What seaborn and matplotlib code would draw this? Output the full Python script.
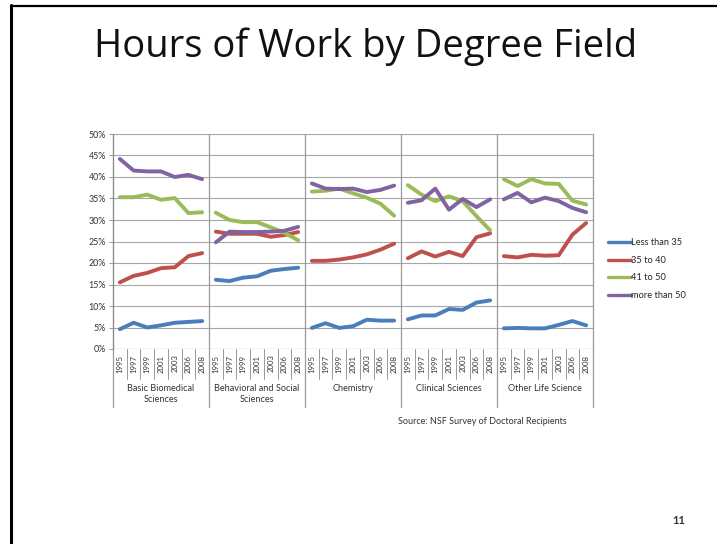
import numpy as np
import pandas as pd
import matplotlib
matplotlib.use("Agg")
import matplotlib.pyplot as plt
import matplotlib.transforms as mtransforms
from matplotlib.lines import Line2D
import seaborn as sns

# ---- data -------------------------------------------------------------
fields = ["Basic Biomedical\nSciences", "Behavioral and Social\nSciences",
          "Chemistry", "Clinical Sciences", "Other Life Science"]
years = ["1995", "1997", "1999", "2001", "2003", "2006", "2008"]
series = ["Less than 35", "35 to 40", "41 to 50", "more than 50"]

less_than_35 = [
    [4.6, 6.1, 5.0, 5.5, 6.1, 6.3, 6.5],
    [16.1, 15.8, 16.6, 16.9, 18.2, 18.6, 18.9],
    [4.9, 6.0, 4.9, 5.3, 6.8, 6.6, 6.6],
    [6.9, 7.8, 7.8, 9.3, 9.1, 10.8, 11.3],
    [4.8, 4.9, 4.8, 4.8, 5.6, 6.5, 5.5],
]
from_35_to_40 = [
    [15.5, 17.0, 17.7, 18.8, 19.0, 21.6, 22.3],
    [27.3, 26.8, 26.8, 26.8, 26.1, 26.5, 27.2],
    [20.5, 20.5, 20.8, 21.3, 22.0, 23.1, 24.5],
    [21.1, 22.7, 21.5, 22.6, 21.6, 26.0, 26.9],
    [21.6, 21.3, 21.9, 21.7, 21.8, 26.6, 29.3],
]
from_41_to_50 = [
    [35.3, 35.3, 35.9, 34.7, 35.1, 31.6, 31.8],
    [31.7, 30.0, 29.5, 29.5, 28.3, 27.0, 25.3],
    [36.6, 36.8, 37.3, 36.2, 35.2, 33.8, 31.0],
    [38.1, 35.9, 34.4, 35.5, 34.4, 30.9, 27.6],
    [39.5, 37.9, 39.5, 38.5, 38.4, 34.5, 33.6],
]
more_than_50 = [
    [44.2, 41.5, 41.3, 41.3, 40.0, 40.5, 39.5],
    [24.8, 27.3, 27.2, 27.2, 27.3, 27.5, 28.4],
    [38.5, 37.3, 37.2, 37.3, 36.5, 37.0, 38.0],
    [34.0, 34.6, 37.3, 32.4, 34.9, 33.0, 34.8],
    [34.8, 36.3, 34.1, 35.2, 34.4, 32.8, 31.8],
]

colors = ["#4A7EBB", "#C0504D", "#9BBB59", "#8064A2"]

# ---- long table: one row per field / year / series --------------------
rows = []
for s_name, table in zip(series, [less_than_35, from_35_to_40,
                                  from_41_to_50, more_than_50]):
    for g, field in enumerate(fields):
        for i, yr in enumerate(years):
            rows.append({"field": field, "year": yr,
                         "pos": g * len(years) + i,
                         "series": s_name, "value": table[g][i]})
df = pd.DataFrame(rows)

# ---- figure ------------------------------------------------------------
sns.set_style("white")
plt.rcParams["font.family"] = ["Lato", "DejaVu Sans"]

W, H = 717, 544
fig = plt.figure(figsize=(W / 100, H / 100), dpi=100)
fig.patch.set_facecolor("white")

# slide frame (top and left edges)
fig.add_artist(Line2D([10.5 / W, 10.5 / W], [0, 1 - 5 / H], color="black",
                      lw=2.2, transform=fig.transFigure))
fig.add_artist(Line2D([10.5 / W, 1], [1 - 5.5 / H, 1 - 5.5 / H], color="black",
                      lw=1.6, transform=fig.transFigure))

fig.text(366 / W, 1 - 47 / H, "Hours of Work by Degree Field",
         ha="center", va="center", fontsize=27.5, color="#111111",
         family=["Open Sans", "DejaVu Sans"])

left, right, top, bottom = 113, 593, 134, 349
ax = fig.add_axes([left / W, 1 - bottom / H, (right - left) / W,
                   (bottom - top) / H])

n_years = len(years)
n_total = n_years * len(fields)

sns.lineplot(data=df, x="pos", y="value", hue="series", units="field",
             estimator=None, palette=colors, hue_order=series,
             linewidth=2.8, ax=ax, legend=False, solid_capstyle="round")

ax.set_xlim(-0.5, n_total - 0.5)
ax.set_ylim(0, 50)
ax.set_yticks(np.arange(0, 51, 5))
ax.set_yticklabels([f"{v}%" for v in range(0, 51, 5)], fontsize=6.4,
                   color="#333333")
ax.yaxis.grid(True, color="#A6A6A6", lw=0.8)
ax.set_axisbelow(True)
ax.tick_params(axis="y", length=3, width=0.6, color="#888888", pad=2,
               left=True)

for sp in ["top", "right", "bottom"]:
    ax.spines[sp].set_visible(False)
ax.spines["left"].set_color("#888888")
ax.spines["left"].set_linewidth(0.8)

# bottom axis line
ax.axhline(0, color="#888888", lw=0.8, zorder=1)

# year labels
ax.set_xticks(np.arange(n_total))
ax.set_xticklabels(years * len(fields), rotation=90, fontsize=5.6,
                   color="#333333")
ax.tick_params(axis="x", length=0, pad=4)

trans = mtransforms.blended_transform_factory(ax.transData, ax.transAxes)
px = 1.0 / (bottom - top)  # one pixel in axes units

# short separators between year labels
for k in range(n_total + 1):
    ax.plot([k - 0.5, k - 0.5], [0, -30 * px], color="#999999", lw=0.7,
            transform=trans, clip_on=False)

# field dividers through plot and label area
for g in range(len(fields) + 1):
    xb = g * n_years - 0.5
    ax.plot([xb, xb], [1, -58 * px], color="#999999", lw=0.9,
            transform=trans, clip_on=False)

# field labels
for g, field in enumerate(fields):
    xc = g * n_years + (n_years - 1) / 2
    ax.text(xc, -35 * px, field, transform=trans, ha="center", va="top",
            fontsize=6.6, color="#333333", linespacing=1.35)

ax.set_xlabel("")
ax.set_ylabel("")

# legend
handles = [Line2D([0], [0], color=c, lw=2.4) for c in colors]
fig.legend(handles, ["Less than 35", "35 to 40", "41 to 50", "more than 50"],
           loc="upper left", bbox_to_anchor=(604 / W, 1 - 234.5 / H),
           frameon=False, fontsize=6.7, handlelength=2.5, handletextpad=0.05,
           labelspacing=0.92, borderaxespad=0)

fig.text(398 / W, 1 - 421 / H, "Source: NSF Survey of Doctoral Recipients",
         ha="left", va="center", fontsize=6.5, color="#333333")

fig.text(679 / W, 1 - 520 / H, "11", ha="center", va="center",
         fontsize=8, color="#333333", fontweight="bold")

fig.savefig("out.png", dpi=100)
